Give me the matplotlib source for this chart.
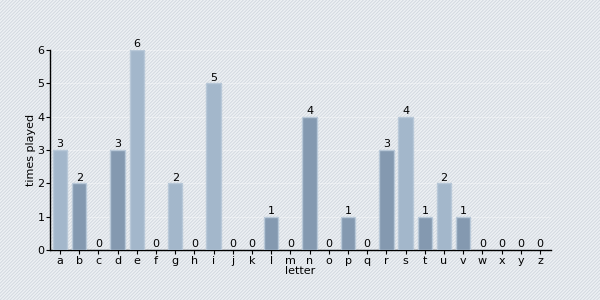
import numpy as np
import matplotlib
matplotlib.use('Agg')
import matplotlib.pyplot as plt
from matplotlib.patches import Rectangle

letters = list('abcdefghijklmnopqrstuvwxyz')
times_played = [3, 2, 0, 3, 6, 0, 2, 0, 5, 0, 0, 1, 0, 4, 0, 1, 0, 3, 4, 1, 2, 1, 0, 0, 0, 0]

light = '#a3b7cb'
dark = '#8499b0'
colors = [light if i % 2 == 0 else dark for i in range(len(letters))]

plt.rcParams['font.family'] = 'DejaVu Sans'
plt.rcParams['hatch.color'] = '#d3d9e0'
plt.rcParams['hatch.linewidth'] = 0.7

fig = plt.figure(figsize=(6, 3), dpi=100)
fig.patch.set_facecolor('#eef1f4')
# striped background
fig.patches.append(Rectangle((0, 0), 1, 1, transform=fig.transFigure, facecolor='none',
                             edgecolor='#d3d9e0', hatch='//////////', linewidth=0, zorder=-1))

ax = fig.add_axes([50/600, 50/300, 501/600, 200/300])
ax.patch.set_alpha(0)

x = np.arange(len(letters))
ax.bar(x, times_played, width=0.75, color=colors, edgecolor='#b8c8d8', linewidth=1, zorder=3)
for xi, v in zip(x, times_played):
    ax.text(xi, v + 0.02, str(v), ha='center', va='bottom', fontsize=8, zorder=4)

ax.set_xlim(-0.52, 25.57)
ax.set_ylim(0, 6)
ax.set_yticks(range(7))
ax.set_xticks(x)
ax.set_xticklabels(letters)
ax.tick_params(axis='both', labelsize=8, length=3, width=0.8, pad=1)
ax.yaxis.grid(True, color='white', linewidth=0.8, alpha=0.35, zorder=0)

for s in ['top', 'right']:
    ax.spines[s].set_visible(False)
ax.spines['left'].set_linewidth(1)
ax.spines['bottom'].set_linewidth(1)

ax.set_xlabel('letter', fontsize=8, labelpad=0.5)
ax.set_ylabel('times played', fontsize=8, labelpad=1)

fig.savefig('out.png', dpi=100, facecolor=fig.get_facecolor())
